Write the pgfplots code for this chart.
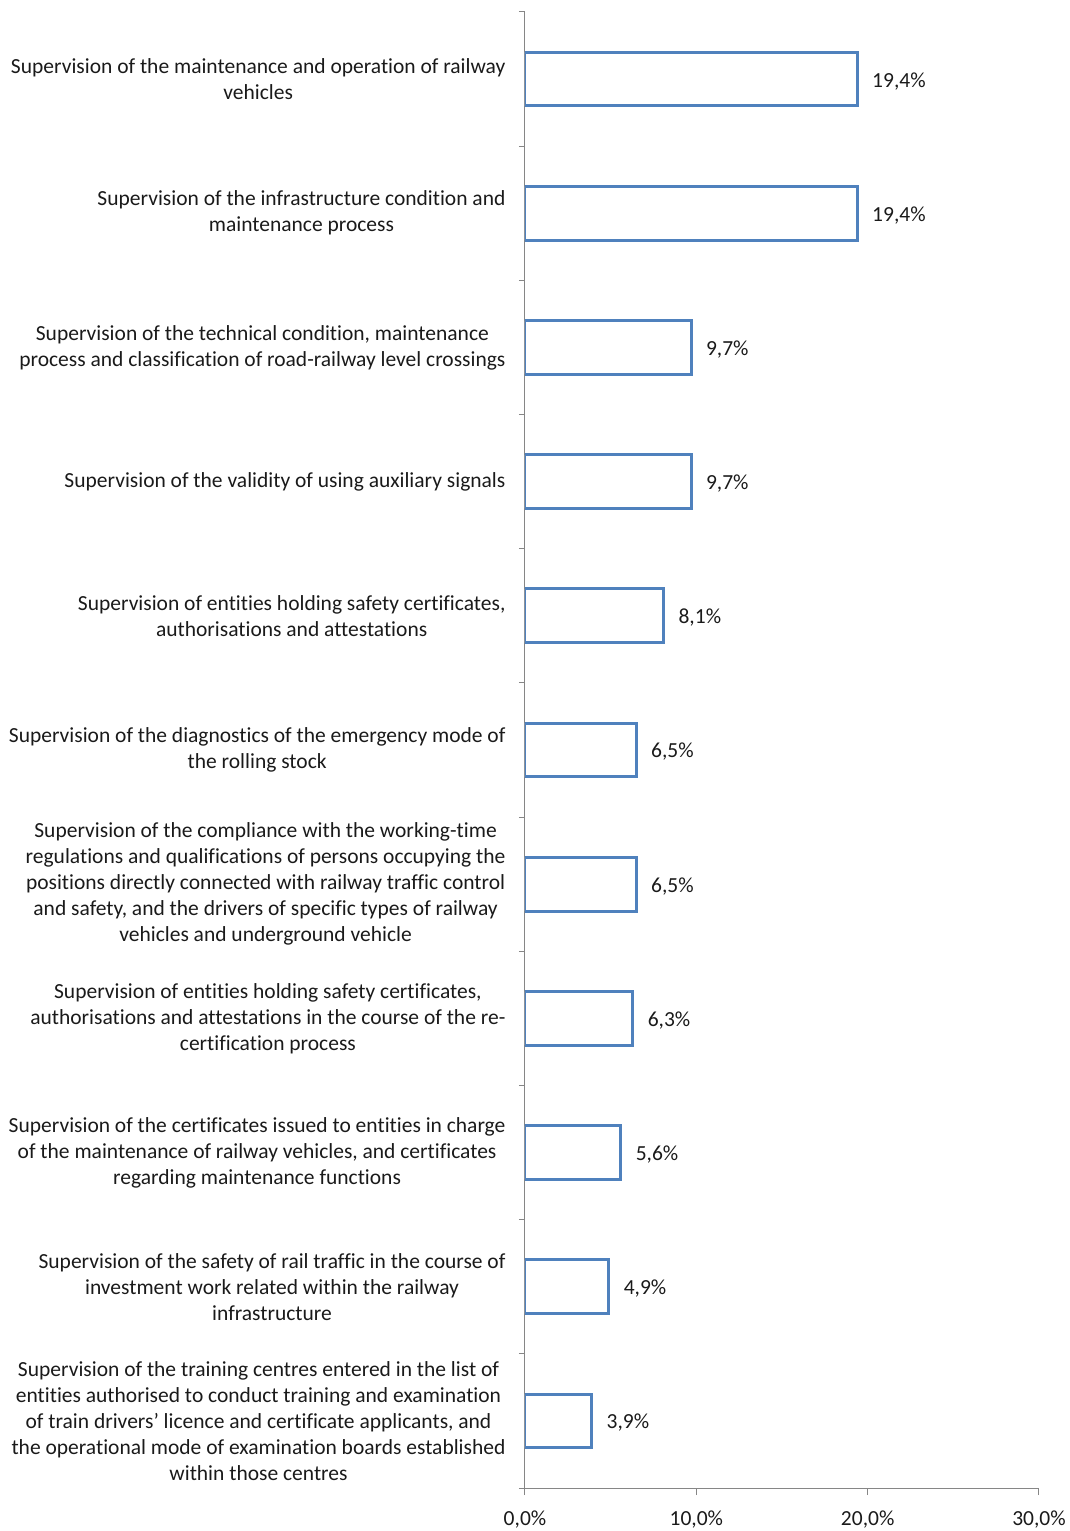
\documentclass[border=0pt]{standalone}
\usepackage{pgfplots}
\pgfplotsset{compat=1.18}
\usepackage{fontspec}
\setmainfont{Carlito}[Ligatures={ResetAll,NoCommon}]
\definecolor{barblue}{HTML}{4F81BD}
\definecolor{axgray}{HTML}{868686}
\definecolor{txt}{HTML}{1A1A1A}
\newcommand{\lblfont}{\fontsize{21.5bp}{26bp}\selectfont}
\begin{document}
\begin{tikzpicture}
\useasboundingbox (-525bp,-43bp) rectangle (545bp,1488bp);
\begin{axis}[
  at={(0,0)}, anchor=south west,
  scale only axis,
  width=514bp, height=1476bp,
  xbar, bar width=0.4,
  xmin=0, xmax=30, ymin=0.5, ymax=11.5,
  axis x line*=bottom, axis y line*=left,
  axis line style={-, axgray, line width=1bp},
  tick style={axgray, line width=1bp},
  tick align=outside,
  major tick length=7bp, minor tick length=6bp,
  every major y tick/.append style={draw=none},
  xtick={0,10,20,30},
  xticklabels={{0,0\%},{10,0\%},{20,0\%},{30,0\%}},
  ytick={1,...,11},
  minor ytick={0.5,1.5,...,11.5},
  yticklabels={
    {Supervision of the training centres entered in the list of\\entities authorised to conduct training and examination\\of train drivers' licence and certificate applicants, and\\the operational mode of examination boards established\\within those centres},
    {Supervision of the safety of rail traffic in the course of\\investment work related within the railway\\infrastructure},
    {Supervision of the certificates issued to entities in charge\\of the maintenance of railway vehicles, and certificates\\regarding maintenance functions},
    {Supervision of entities holding safety certificates,\\authorisations and attestations in the course of the re-\\certification process},
    {Supervision of the compliance with the working-time\\regulations and qualifications of persons occupying the\\positions directly connected with railway traffic control\\and safety, and the drivers of specific types of railway\\vehicles and underground vehicle},
    {Supervision of the diagnostics of the emergency mode of\\the rolling stock},
    {Supervision of entities holding safety certificates,\\authorisations and attestations},
    {Supervision of the validity of using auxiliary signals},
    {Supervision of the technical condition, maintenance\\process and classification of road-railway level crossings},
    {Supervision of the infrastructure condition and\\maintenance process},
    {Supervision of the maintenance and operation of railway\\vehicles}
  },
  yticklabel style={align=center, font=\lblfont, text=txt, xshift=-9bp},
  xticklabel style={font=\lblfont, text=txt, yshift=-12bp},
  point meta=x,
  nodes near coords={\pgfmathprintnumber{\pgfplotspointmeta}\%},
  nodes near coords align=horizontal,
  every node near coord/.append style={font=\lblfont, text=txt, xshift=10bp, yshift=-2bp},
  /pgf/number format/.cd, fixed, fixed zerofill, precision=1, use comma, assume math mode=true,
]
\addplot[draw=barblue, fill=white, line width=3bp] coordinates {
  (3.9,1) (4.9,2) (5.6,3) (6.3,4) (6.5,5) (6.5,6) (8.1,7) (9.7,8) (9.7,9) (19.4,10) (19.4,11)
};
\end{axis}
\end{tikzpicture}
\end{document}
